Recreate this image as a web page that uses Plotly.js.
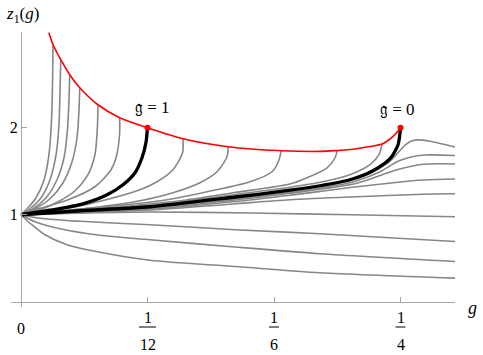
<!DOCTYPE html>
<html>
<head>
<meta charset="utf-8">
<script src="https://cdn.plot.ly/plotly-3.0.1.min.js"></script>
<style>
  html, body { margin: 0; padding: 0; background: #fff; }
  #chart { width: 483px; height: 355px; }
</style>
</head>
<body>
<div id="chart"></div>
<script>
// red envelope
const envX = [0.0184, 0.0211, 0.0262, 0.0321, 0.0387, 0.0507, 0.0650, 0.0833, 0.1067, 0.1364, 0.1719, 0.1970, 0.2082, 0.2187, 0.2279, 0.2378, 0.2451, 0.2500]
const envY = [3.092, 2.954, 2.782, 2.609, 2.460, 2.264, 2.115, 2.000, 1.874, 1.782, 1.736, 1.728, 1.738, 1.752, 1.778, 1.812, 1.900, 2.000]

// gray curves (ending on the envelope, running to the right edge, and the lower ones)
const grayX = [
    [0, 0.0046, 0.0099, 0.0152, 0.0184, 0.0201, 0.0208, 0.0211],
    [0, 0.0059, 0.0132, 0.0191, 0.0231, 0.0250, 0.0257, 0.0262],
    [0, 0.0079, 0.0165, 0.0237, 0.0283, 0.0306, 0.0316, 0.0321],
    [0, 0.0092, 0.0191, 0.0277, 0.0336, 0.0369, 0.0382, 0.0387],
    [0, 0.0125, 0.0244, 0.0356, 0.0441, 0.0487, 0.0504, 0.0507],
    [0, 0.0092, 0.0310, 0.0487, 0.0593, 0.0626, 0.0649, 0.0650],
    [0, 0.0125, 0.0323, 0.0586, 0.0784, 0.0896, 0.1001, 0.1064, 0.1067],
    [0, 0.0224, 0.0520, 0.0784, 0.1001, 0.1179, 0.1291, 0.1357, 0.1364],
    [0, 0.0257, 0.0520, 0.0784, 0.0962, 0.1225, 0.1509, 0.1654, 0.1700, 0.1713],
    [0, 0.0257, 0.0652, 0.1047, 0.1397, 0.1772, 0.1884, 0.2016, 0.2069, 0.2082],
    [0, 0.0389, 0.0850, 0.1397, 0.1772, 0.1989, 0.2167, 0.2299, 0.2358, 0.2378],
    [0, 0.0389, 0.0850, 0.1397, 0.1772, 0.2101, 0.2299, 0.2418, 0.2484, 0.2530, 0.2569, 0.2609, 0.2694, 0.2859],
    [0, 0.0389, 0.0850, 0.1397, 0.1772, 0.2101, 0.2213, 0.2365, 0.2477, 0.2563, 0.2661, 0.2859],
    [0, 0.0389, 0.0850, 0.1397, 0.1772, 0.2213, 0.2477, 0.2648, 0.2859],
    [0, 0.0389, 0.0850, 0.1397, 0.1772, 0.2213, 0.2648, 0.2859],
    [0, 0.0389, 0.0850, 0.1397, 0.1772, 0.2213, 0.2648, 0.2859],
    [0, 0.0422, 0.0856, 0.1515, 0.2174, 0.2859],
    [0, 0.0125, 0.0389, 0.0850, 0.1410, 0.1970, 0.2859],
    [0, 0.0092, 0.0257, 0.0520, 0.0850, 0.1410, 0.1970, 0.2859],
    [0, 0.0040, 0.0079, 0.0158, 0.0303, 0.0520, 0.0850, 0.1410, 0.1970, 0.2859]
]
const grayY = [
    [1, 1.080, 1.195, 1.402, 1.690, 2.092, 2.552, 2.954],
    [1, 1.069, 1.195, 1.402, 1.690, 2.034, 2.437, 2.782],
    [1, 1.069, 1.195, 1.402, 1.655, 1.977, 2.322, 2.609],
    [1, 1.069, 1.184, 1.368, 1.609, 1.885, 2.207, 2.460],
    [1, 1.057, 1.149, 1.276, 1.460, 1.690, 2.034, 2.264],
    [1, 1.057, 1.172, 1.322, 1.517, 1.655, 1.920, 2.115],
    [1, 1.034, 1.080, 1.184, 1.287, 1.379, 1.517, 1.713, 1.874],
    [1, 1.034, 1.092, 1.161, 1.253, 1.368, 1.494, 1.667, 1.782],
    [1, 1.046, 1.086, 1.132, 1.172, 1.264, 1.379, 1.494, 1.632, 1.736],
    [1, 1.040, 1.092, 1.161, 1.253, 1.353, 1.425, 1.540, 1.655, 1.738],
    [1, 1.052, 1.109, 1.230, 1.316, 1.379, 1.460, 1.575, 1.690, 1.812],
    [1, 1.044, 1.085, 1.190, 1.270, 1.368, 1.477, 1.598, 1.713, 1.799, 1.845, 1.860, 1.845, 1.778],
    [1, 1.040, 1.078, 1.178, 1.259, 1.345, 1.391, 1.494, 1.609, 1.661, 1.687, 1.681],
    [1, 1.034, 1.071, 1.167, 1.247, 1.362, 1.517, 1.580, 1.583],
    [1, 1.029, 1.063, 1.149, 1.224, 1.322, 1.399, 1.410],
    [1, 1.023, 1.054, 1.124, 1.172, 1.207, 1.236, 1.241],
    [1, 1.020, 1.031, 1.020, 1.000, 0.977],
    [1, 0.960, 0.925, 0.885, 0.828, 0.782, 0.693],
    [1, 0.920, 0.839, 0.764, 0.713, 0.629, 0.552, 0.463],
    [1, 0.931, 0.874, 0.770, 0.655, 0.569, 0.477, 0.406, 0.333, 0.272]
]

// the two black curves (g = 1 and g = 0)
const blackX = [
    [0, 0.0191, 0.0408, 0.0567, 0.0672, 0.0751, 0.0797, 0.0824, 0.0833],
    [0, 0.0389, 0.0850, 0.1397, 0.1772, 0.1989, 0.2167, 0.2319, 0.2431, 0.2484, 0.2500]
]
const blackY = [
    [1, 1.052, 1.126, 1.230, 1.345, 1.483, 1.655, 1.839, 2.000],
    [1, 1.046, 1.092, 1.201, 1.282, 1.339, 1.402, 1.506, 1.644, 1.805, 2.000]
]

// end points and their labels
const dotX = [1 / 12, 1 / 4]
const dotY = [2, 2]
const dotLabels = ['𝔤 = 1', '𝔤 = 0']
const labelX = [0.0863, 0.2477]
const labelY = [2.23, 2.207]

// axis ticks
const xTickVals = [0, 1 / 12, 1 / 6, 1 / 4]
const xTickNum = ['0', '1', '1', '1']
const xTickDen = ['', '12', '6', '4']
const yTickVals = [1, 2]
const yTickText = ['1', '2']

const serif = 'Liberation Serif'
const axisGray = '#a6a6a6'

const xRange = [-0.0066, 0.2859]
const yRange = [-0.06, 3.1]

// x position in plot-area fraction, for things placed below the axis
function xFrac(v) {
    return (v - xRange[0]) / (xRange[1] - xRange[0])
}

const traces = []
grayX.forEach((xs, i) => {
    traces.push({
        x: xs, y: grayY[i], type: 'scatter', mode: 'lines',
        line: { color: '#878787', width: 1.6, shape: 'spline', smoothing: 0.8 },
        hoverinfo: 'skip'
    })
})
blackX.forEach((xs, i) => {
    traces.push({
        x: xs, y: blackY[i], type: 'scatter', mode: 'lines',
        line: { color: '#000', width: 3.3, shape: 'spline', smoothing: 0.7 },
        hoverinfo: 'skip'
    })
})
traces.push({
    x: envX, y: envY, type: 'scatter', mode: 'lines',
    line: { color: '#ff0000', width: 1.6, shape: 'spline', smoothing: 0.8 },
    hoverinfo: 'skip'
})
traces.push({
    x: dotX, y: dotY, type: 'scatter', mode: 'markers',
    marker: { color: '#ff0000', size: 6 },
    hoverinfo: 'skip'
})

const annotations = []
const shapes = []

dotLabels.forEach((t, i) => {
    annotations.push({
        text: t, x: labelX[i], y: labelY[i], xref: 'x', yref: 'y',
        xanchor: 'center', yanchor: 'middle',
        showarrow: false, font: { family: serif, size: 17, color: '#000' }
    })
})

// stacked fraction tick labels under the x axis
xTickVals.forEach((v, i) => {
    const tickFont = { family: serif, size: 16, color: '#000' }
    const px = xFrac(v)
    const base = {
        x: px, y: 0, xref: 'paper', yref: 'paper',
        xanchor: 'center', yanchor: 'middle', showarrow: false, font: tickFont
    }
    if (!xTickDen[i]) {
        annotations.push({ ...base, text: xTickNum[i], yshift: -21 })
        return
    }
    annotations.push({ ...base, text: xTickNum[i], yshift: -10 })
    annotations.push({ ...base, text: xTickDen[i], yshift: -37 })
    const half = xTickDen[i].length > 1 ? 8.5 : 5
    shapes.push({
        type: 'line', xref: 'paper', yref: 'paper',
        xsizemode: 'pixel', xanchor: px, x0: -half, x1: half,
        ysizemode: 'pixel', yanchor: 0, y0: -20, y1: -20,
        line: { color: '#000', width: 1 }
    })
})

// axis titles
annotations.push({
    text: '<i>z</i><sub>1</sub>(<i>g</i>)', xref: 'paper', yref: 'paper',
    x: -0.016, y: 1.062, xanchor: 'left', yanchor: 'middle', showarrow: false,
    font: { family: serif, size: 17, color: '#000' }
})
annotations.push({
    text: '<i>g</i>', xref: 'paper', yref: 'paper',
    x: 1.0405, y: -0.005, xanchor: 'center', yanchor: 'middle', showarrow: false,
    font: { family: serif, size: 18, color: '#000' }
})

const layout = {
    width: 483,
    height: 355,
    margin: { l: 11, r: 28, t: 32, b: 48 },
    paper_bgcolor: '#fff',
    plot_bgcolor: '#fff',
    showlegend: false,
    xaxis: {
        range: xRange,
        anchor: 'free',
        position: (0 - yRange[0]) / (yRange[1] - yRange[0]),
        showgrid: false, zeroline: false,
        showline: true, linecolor: axisGray, linewidth: 1,
        ticks: 'inside', ticklen: 5, tickcolor: axisGray, tickwidth: 1,
        tickvals: xTickVals, showticklabels: false
    },
    yaxis: {
        range: yRange,
        anchor: 'free',
        position: xFrac(0),
        showgrid: false, zeroline: false,
        showline: true, linecolor: axisGray, linewidth: 1,
        ticks: 'inside', ticklen: 5, tickcolor: axisGray, tickwidth: 1,
        tickvals: yTickVals, ticktext: yTickText,
        tickfont: { family: serif, size: 16, color: '#000' }
    },
    annotations: annotations,
    shapes: shapes
}

Plotly.newPlot('chart', traces, layout, { displayModeBar: false, staticPlot: true })
</script>
</body>
</html>
